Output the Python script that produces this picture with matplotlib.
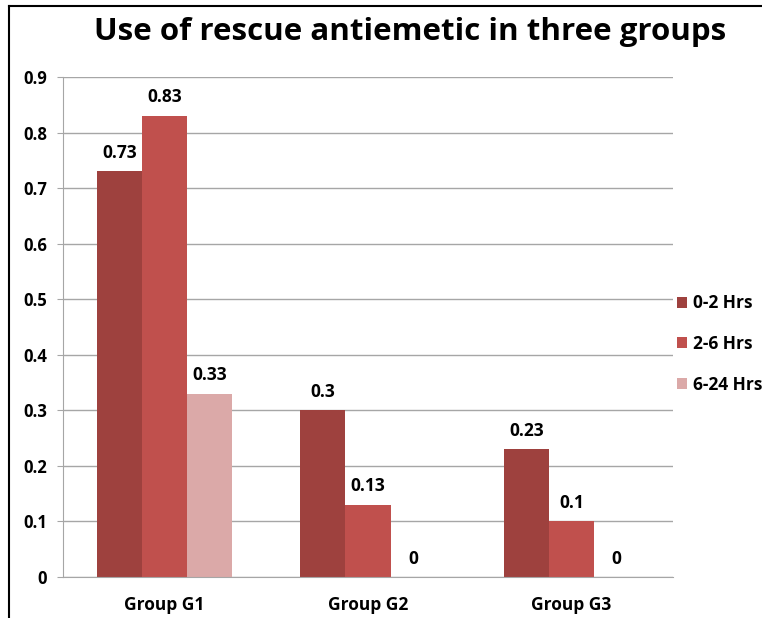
import matplotlib.pyplot as plt
import numpy as np
from matplotlib.lines import Line2D

# rescue antiemetic use per group and time window
groups = ["Group G1", "Group G2", "Group G3"]
series = ["0-2 Hrs", "2-6 Hrs", "6-24 Hrs"]
hrs_0_2 = [0.73, 0.3, 0.23]
hrs_2_6 = [0.83, 0.13, 0.1]
hrs_6_24 = [0.33, 0, 0]
colors = ["#9E413E", "#C0504D", "#DBA9A8"]

plt.rcParams["font.family"] = ["Open Sans", "DejaVu Sans"]

fig = plt.figure(figsize=(7.62, 6.18), dpi=100)
ax = fig.add_axes([63 / 762, 41 / 618, 610 / 762, 500 / 618])

x = np.arange(len(groups))
w = 0.222
for i, (vals, name) in enumerate(zip([hrs_0_2, hrs_2_6, hrs_6_24], series)):
    pos = x + (i - 1) * w
    ax.bar(pos, vals, w, color=colors[i], label=name, zorder=2)
    for px, v in zip(pos, vals):
        ax.text(px, v + 0.017, f"{v:g}", ha="center", va="bottom",
                fontsize=12.5, fontweight="bold")

ax.set_xlim(-0.5, 2.5)
ax.set_ylim(0, 0.9)
ticks = np.arange(0, 0.91, 0.1)
ax.set_yticks(ticks)
ax.set_yticklabels([f"{t:g}" for t in ticks], fontsize=12, fontweight="bold")
ax.set_xticks(x)
ax.set_xticklabels(groups, fontsize=12.5, fontweight="bold")
ax.tick_params(axis="x", length=0, pad=14)
ax.tick_params(axis="y", length=4.5, color="#A6A6A6", pad=7)
ax.grid(axis="y", color="#A6A6A6", linewidth=1, zorder=0)
for s in ["top", "right"]:
    ax.spines[s].set_visible(False)
for s in ["left", "bottom"]:
    ax.spines[s].set_color("#A6A6A6")

fig.text(410 / 762, 1 - 32 / 618, "Use of rescue antiemetic in three groups",
         ha="center", va="center", fontsize=22.5, fontweight="bold")

ax.legend(loc="center left", bbox_to_anchor=(0.995, 0.466), frameon=False,
          prop={"weight": "bold", "size": 12.5},
          handlelength=0.6, handleheight=0.6, handletextpad=0.35,
          labelspacing=1.3, borderaxespad=0)

# outer frame (top and left edges)
fig.lines.append(Line2D([9 / 762, 1], [1 - 6 / 618] * 2,
                        transform=fig.transFigure, color="black", linewidth=1.5))
fig.lines.append(Line2D([9 / 762] * 2, [0, 1 - 6 / 618],
                        transform=fig.transFigure, color="black", linewidth=1.5))

fig.savefig("out.png", dpi=100)
